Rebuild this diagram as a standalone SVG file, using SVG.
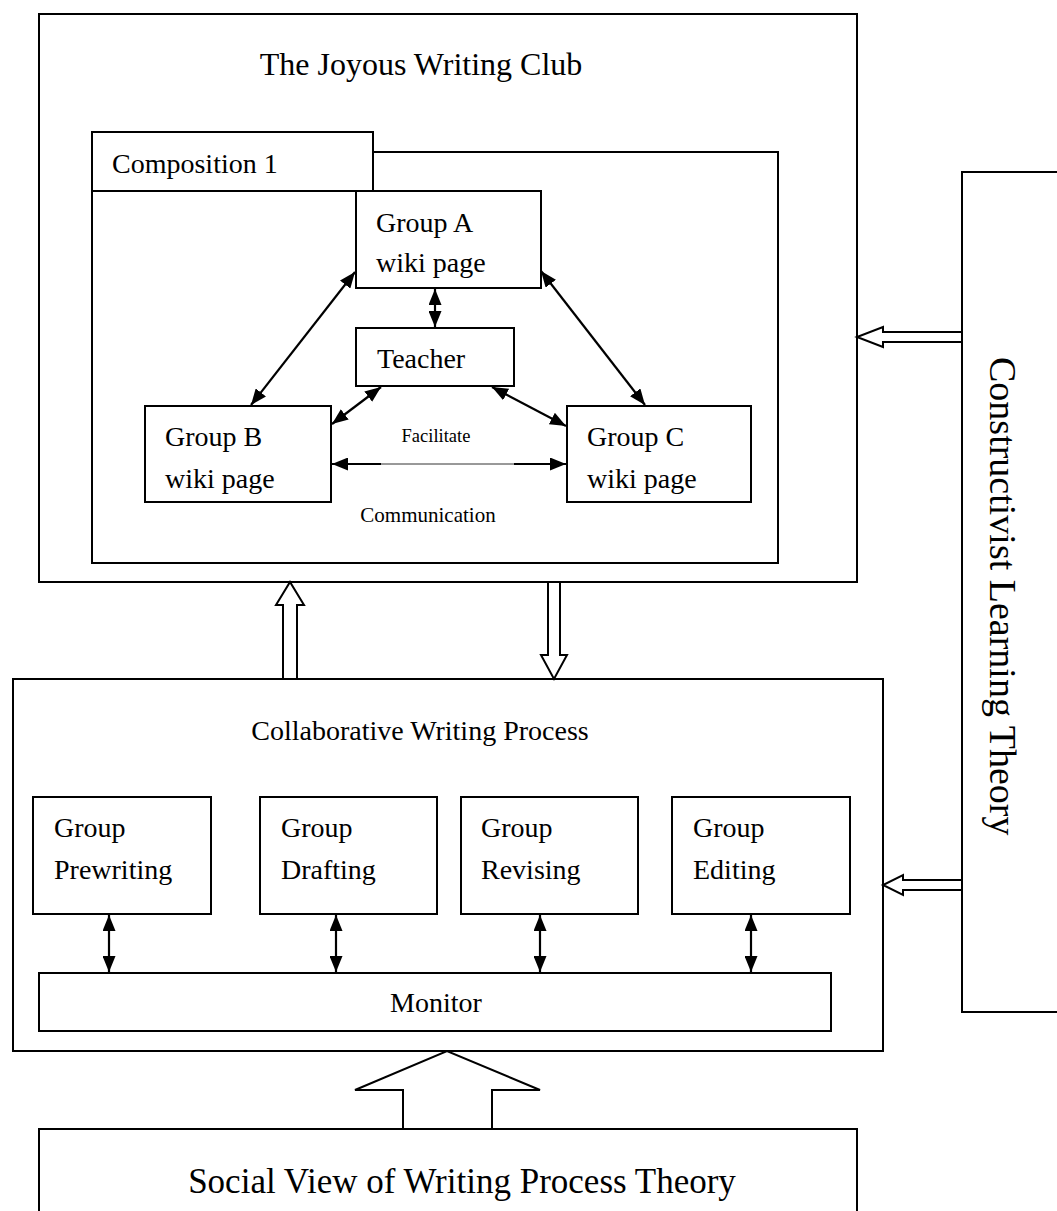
<svg xmlns="http://www.w3.org/2000/svg" width="1057" height="1211" viewBox="0 0 1057 1211">
<style>
  .box { fill: #fff; stroke: #000; stroke-width: 2; }
  .hollow { fill: #fff; stroke: #000; stroke-width: 2; stroke-linejoin: miter; }
  .t { font-family: "Liberation Serif", "Times New Roman", serif; fill: #000; }
  .f28 { font-size: 28px; }
  .con { stroke: #000; stroke-width: 2.2; fill: none; }
  .thin { stroke: #333; stroke-width: 1; fill: none; }
</style>
<defs>
  <marker id="ah" viewBox="0 0 16 13" refX="16" refY="6.5" markerWidth="16" markerHeight="13" markerUnits="userSpaceOnUse" orient="auto-start-reverse">
    <path d="M0,0 L16,6.5 L0,13 z" fill="#000"/>
  </marker>
</defs>
<rect width="1057" height="1211" fill="#fff"/>

<g id="joyous-club">
  <rect class="box" x="39" y="14" width="818" height="568"/>
  <text class="t" x="421" y="75" font-size="32" text-anchor="middle">The Joyous Writing Club</text>
</g>

<g id="composition-1">
  <rect class="box" x="92" y="152" width="686" height="411"/>
  <rect class="box" x="92" y="132" width="281" height="59"/>
  <text class="t f28" x="112" y="173">Composition 1</text>
</g>

<g id="group-a">
  <rect class="box" x="356" y="191" width="185" height="97"/>
  <text class="t f28" x="376" y="232">Group A</text>
  <text class="t f28" x="376" y="272">wiki page</text>
</g>

<g id="teacher">
  <rect class="box" x="356" y="328" width="158" height="58"/>
  <text class="t f28" x="377" y="368">Teacher</text>
</g>

<g id="group-b">
  <rect class="box" x="145" y="406" width="186" height="96"/>
  <text class="t f28" x="165" y="446">Group B</text>
  <text class="t f28" x="165" y="488">wiki page</text>
</g>

<g id="group-c">
  <rect class="box" x="567" y="406" width="184" height="96"/>
  <text class="t f28" x="587" y="446">Group C</text>
  <text class="t f28" x="587" y="488">wiki page</text>
</g>

<g id="labels">
  <text class="t" x="436" y="442" font-size="18.5" text-anchor="middle">Facilitate</text>
  <text class="t" x="428" y="522" font-size="21" text-anchor="middle">Communication</text>
</g>

<g id="collaborative-writing-process">
  <rect class="box" x="13" y="679" width="870" height="372"/>
  <text class="t f28" x="420" y="740" text-anchor="middle">Collaborative Writing Process</text>
</g>

<g id="group-prewriting">
  <rect class="box" x="33" y="797" width="178" height="117"/>
  <text class="t f28" x="54" y="837">Group</text>
  <text class="t f28" x="54" y="879">Prewriting</text>
</g>

<g id="group-drafting">
  <rect class="box" x="260" y="797" width="177" height="117"/>
  <text class="t f28" x="281" y="837">Group</text>
  <text class="t f28" x="281" y="879">Drafting</text>
</g>

<g id="group-revising">
  <rect class="box" x="461" y="797" width="177" height="117"/>
  <text class="t f28" x="481" y="837">Group</text>
  <text class="t f28" x="481" y="879">Revising</text>
</g>

<g id="group-editing">
  <rect class="box" x="672" y="797" width="178" height="117"/>
  <text class="t f28" x="693" y="837">Group</text>
  <text class="t f28" x="693" y="879">Editing</text>
</g>

<g id="monitor">
  <rect class="box" x="39" y="973" width="792" height="58"/>
  <text class="t f28" x="436" y="1012" text-anchor="middle">Monitor</text>
</g>

<g id="constructivist-learning-theory">
  <rect class="box" x="962" y="172" width="100" height="840"/>
  <text class="t" transform="translate(990,357) rotate(90)" font-size="38">Constructivist Learning Theory</text>
</g>

<g id="social-view">
  <rect class="box" x="39" y="1129" width="818" height="100"/>
  <text class="t" x="462" y="1193" font-size="35" text-anchor="middle">Social View of Writing Process Theory</text>
</g>

<g id="connectors">
  <line class="con" x1="355" y1="272" x2="251" y2="405" marker-start="url(#ah)" marker-end="url(#ah)"/>
  <line class="con" x1="541" y1="271" x2="645" y2="405" marker-start="url(#ah)" marker-end="url(#ah)"/>
  <line class="con" x1="435" y1="289" x2="435" y2="327" marker-start="url(#ah)" marker-end="url(#ah)"/>
  <line class="con" x1="381" y1="387" x2="332" y2="424" marker-start="url(#ah)" marker-end="url(#ah)"/>
  <line class="con" x1="492" y1="387" x2="566" y2="426" marker-start="url(#ah)" marker-end="url(#ah)"/>
  <line class="thin" x1="381" y1="464" x2="514" y2="464"/>
  <line class="con" x1="381" y1="464" x2="332" y2="464" marker-end="url(#ah)"/>
  <line class="con" x1="514" y1="464" x2="566" y2="464" marker-end="url(#ah)"/>
  <line class="con" x1="109" y1="915" x2="109" y2="972" marker-start="url(#ah)" marker-end="url(#ah)"/>
  <line class="con" x1="336" y1="915" x2="336" y2="972" marker-start="url(#ah)" marker-end="url(#ah)"/>
  <line class="con" x1="540" y1="915" x2="540" y2="972" marker-start="url(#ah)" marker-end="url(#ah)"/>
  <line class="con" x1="751" y1="915" x2="751" y2="972" marker-start="url(#ah)" marker-end="url(#ah)"/>
  <polygon class="hollow" points="283,679 283,605 276,605 290,582 304,605 297,605 297,679"/>
  <polygon class="hollow" points="548,582 548,655 541,655 554,679 567,655 560,655 560,582"/>
  <polygon class="hollow" points="962,332 883,332 883,327 857,337 883,347 883,342 962,342"/>
  <polygon class="hollow" points="962,880 903,880 903,875 883,885 903,895 903,890 962,890"/>
  <polygon class="hollow" points="403,1129 403,1090 355,1090 447,1051 540,1090 492,1090 492,1129"/>
</g>
</svg>
